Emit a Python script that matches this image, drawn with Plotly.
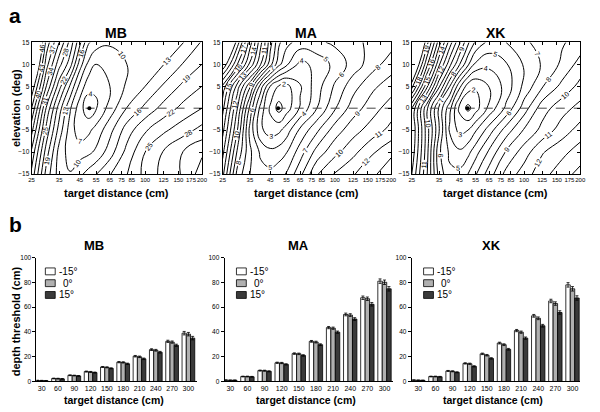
import math
import plotly.graph_objects as go

# ---------------- data: panel a (contour maps of threshold) ----------------
dist_grid = [25, 30, 35, 40, 45, 50, 55, 65, 80, 100, 125, 160, 200]
elev_grid = [-15, -10, -5, 0, 5, 10, 15]
dist_ticks = [25, 35, 45, 55, 65, 75, 85, 100, 125, 150, 175, 200]
elev_ticks = [-15, -10, -5, 0, 5, 10, 15]

mb_thresh = [
    [30.2, 17.7, 11.6, 10.2, 12.2, 14.2, 15.9, 18.8, 21.9, 25.9, 29, 31.4, 35.5],
    [33.4, 20.4, 11.9, 8.6, 8.7, 9.3, 10.6, 14.6, 20, 25, 28.2, 31.2, 33.5],
    [38, 23.9, 14.7, 8.6, 5.2, 6.3, 8.1, 12, 17.5, 21.6, 24.4, 26.8, 29],
    [43, 27.5, 17.5, 10.4, 5.3, 2, 3.8, 8.3, 13.1, 16.8, 20.1, 23, 25],
    [48.6, 33.8, 23.3, 15.6, 9.1, 5.1, 4.2, 7, 10.5, 13, 16.4, 19.8, 22],
    [55, 38.2, 29.1, 23.4, 14.5, 9.3, 7, 7.7, 10, 11.4, 12.9, 16.3, 19],
    [58, 41.8, 34, 27, 19.9, 13.4, 11.5, 10.5, 10.9, 11.5, 12.2, 13, 16.3],
]
ma_thresh = [
    [12.3, 7.6, 6, 5.4, 5.3, 5.6, 6.1, 7.7, 9.9, 11.1, 11.9, 12.8, 13.7],
    [13.3, 8.8, 6.2, 4.8, 4.3, 4.5, 4.95, 6.5, 8.4, 9.7, 10.7, 11.9, 12.75],
    [14.3, 10, 5.7, 3.2, 2.5, 2.75, 3.5, 5.2, 6.8, 8.5, 9.6, 10.5, 11.3],
    [15.3, 11, 6.7, 3.6, 1.8, 0.6, 1.5, 3.1, 5, 6.9, 8.5, 9.6, 10.5],
    [16.8, 12.5, 9.2, 5.5, 3, 1.9, 1.7, 2.9, 4.55, 6.15, 7.6, 8.8, 9.5],
    [21, 17, 13.8, 11, 8.4, 6.3, 5.2, 3.7, 4.3, 5.3, 6.4, 7.6, 8.5],
    [24, 19.5, 15.5, 12.3, 9.4, 7.2, 6.3, 5.6, 5.8, 6.2, 6.7, 7.3, 7.6],
]
xk_thresh = [
    [14, 10.2, 6.6, 5.2, 5.3, 6, 6.9, 8.5, 10.3, 11.5, 12.6, 13.6, 14.3],
    [14.7, 10.5, 6.2, 4.8, 4.2, 4.7, 5.6, 7.2, 9.1, 10.5, 11.9, 12.7, 13.5],
    [15, 10.6, 7.1, 3.8, 2.7, 3, 3.9, 5.5, 7.45, 9.1, 10.3, 11.5, 12.4],
    [15, 10.3, 6.8, 4.3, 1.8, 0.7, 1.55, 3.3, 5.2, 7.5, 9.55, 10.6, 11.35],
    [19.5, 14.4, 10.2, 7, 4.3, 2.5, 2.1, 2.95, 4.4, 6.25, 7.9, 9.3, 10.3],
    [22.5, 17.4, 13.2, 10.3, 8.1, 6.2, 4.8, 4.3, 4.9, 6.1, 7.1, 8.2, 9.4],
    [24.5, 19.5, 15.5, 12.5, 10.2, 8.2, 6.8, 5.7, 6, 6.8, 7.4, 7.9, 8.4],
]
subjects = ["MB", "MA", "XK"]
center_dist = [50.6, 49.6, 49.8]
center_elev = [0, 0, 0]
level_start = [4, 1, 1]
level_end = [46, 20, 20]
level_step = [3, 1, 1]

# ---------------- data: panel b (bar charts) ----------------
bar_dist = [30, 60, 90, 120, 150, 180, 210, 240, 270, 300]
y_ticks_b = [0, 20, 40, 60, 80, 100]
mb_m15 = [0.8, 2.4, 5.0, 8.0, 11.7, 15.6, 20.4, 25.7, 32.4, 39.0]
mb_0 = [0.7, 2.3, 4.8, 7.7, 11.4, 15.4, 19.9, 25.2, 31.8, 38.2]
mb_p15 = [0.6, 2.1, 4.5, 7.2, 10.6, 14.3, 18.3, 23.6, 29.2, 35.0]
mb_err = [0.2, 0.3, 0.3, 0.4, 0.4, 0.5, 0.6, 0.7, 0.9, 1.4]
ma_m15 = [1.1, 4.0, 8.8, 15.1, 22.5, 32.4, 43.5, 54.1, 67.6, 81.0]
ma_0 = [1.0, 4.0, 8.7, 14.9, 22.3, 31.8, 43.0, 53.6, 66.8, 80.1]
ma_p15 = [1.0, 3.8, 8.2, 13.8, 21.0, 29.7, 39.8, 50.4, 62.3, 74.8]
ma_err = [0.2, 0.3, 0.4, 0.5, 0.6, 0.7, 0.9, 1.1, 1.4, 1.8]
xk_m15 = [1.1, 4.0, 8.5, 14.6, 22.3, 31.0, 41.1, 53.0, 65.0, 78.0]
xk_0 = [1.0, 4.0, 8.2, 14.3, 21.2, 29.7, 39.8, 51.0, 62.9, 74.8]
xk_p15 = [0.9, 3.8, 7.4, 12.2, 18.6, 26.0, 35.0, 45.0, 55.7, 67.4]
xk_err = [0.2, 0.3, 0.4, 0.5, 0.6, 0.7, 0.9, 1.1, 1.4, 1.8]
cond_names = ["-15°", "0°", "15°"]
cond_colors = ["white", "#b0b0b0", "#3a3a3a"]

FONT = "Liberation Sans, Arial, sans-serif"
W, H = 600, 412


def px_x(p):
    return p / W


def px_y(p):
    return 1 - p / H


fig = go.Figure()

# ---------- contour panels ----------
cont_xdom = [[29, 202], [223, 394], [415, 586]]
cont_ydom = [39, 173]
grids = [mb_thresh, ma_thresh, xk_thresh]
layout_axes = {}
for i in range(3):
    ax = "" if i == 0 else str(i + 1)
    fig.add_trace(go.Contour(
        x=dist_grid, y=elev_grid, z=grids[i],
        xaxis="x" + ax, yaxis="y" + ax,
        contours=dict(start=level_start[i], end=level_end[i], size=level_step[i],
                      coloring="none", showlabels=True,
                      labelfont=dict(size=7, color="black", family=FONT)),
        colorscale=[[0, "black"], [1, "black"]],
        line=dict(width=1, color="black", smoothing=1.3),
        showscale=False, hoverinfo="skip", showlegend=False,
    ))
    fig.add_trace(go.Scatter(
        x=[dist_grid[0], dist_grid[-1]], y=[0, 0], mode="lines",
        line=dict(color="#444444", width=1, dash="dash"),
        xaxis="x" + ax, yaxis="y" + ax, showlegend=False, hoverinfo="skip"))
    fig.add_trace(go.Scatter(
        x=[center_dist[i]], y=[center_elev[i]], mode="markers",
        marker=dict(color="black", size=4),
        xaxis="x" + ax, yaxis="y" + ax, showlegend=False, hoverinfo="skip"))
    layout_axes["xaxis" + ax] = dict(
        domain=[px_x(cont_xdom[i][0]), px_x(cont_xdom[i][1])],
        anchor="y" + ax, type="log",
        range=[math.log10(dist_grid[0]), math.log10(dist_grid[-1])],
        tickvals=dist_ticks, ticktext=[str(t) for t in dist_ticks],
        ticks="inside", ticklen=3, tickcolor="black",
        showline=True, linecolor="black", linewidth=1, mirror="allticks",
        showgrid=False, zeroline=False,
        tickfont=dict(size=6, color="black", family=FONT), tickangle=0)
    layout_axes["yaxis" + ax] = dict(
        domain=[px_y(cont_ydom[1]), px_y(cont_ydom[0])],
        anchor="x" + ax, range=[-15, 15],
        tickvals=elev_ticks, ticks="inside", ticklen=3, tickcolor="black",
        showline=True, linecolor="black", linewidth=1, mirror="allticks",
        showgrid=False, zeroline=False,
        tickfont=dict(size=6.5, color="black", family=FONT))

# ---------- bar panels ----------
bar_xdom = [[34, 197], [225, 396], [415, 586]]
bar_ranges = [[-0.32, 9.53], [-0.33, 9.5], [-0.38, 9.45]]
bar_ydom = [258, 384]
bar_data = [(mb_m15, mb_0, mb_p15, mb_err),
            (ma_m15, ma_0, ma_p15, ma_err),
            (xk_m15, xk_0, xk_p15, xk_err)]
for i in range(3):
    ax = str(i + 4)
    for j in range(3):
        fig.add_trace(go.Bar(
            x=[str(d) for d in bar_dist], y=bar_data[i][j],
            name=cond_names[j],
            marker=dict(color=cond_colors[j], line=dict(color="black", width=0.8)),
            error_y=dict(type="data", array=bar_data[i][3], color="black",
                         thickness=0.8, width=1.5),
            xaxis="x" + ax, yaxis="y" + ax, showlegend=False,
            offsetgroup=str(j)))
    layout_axes["xaxis" + ax] = dict(
        domain=[px_x(bar_xdom[i][0]), px_x(bar_xdom[i][1])],
        anchor="y" + ax, type="category", range=bar_ranges[i],
        ticks="", ticklen=0,
        showline=True, linecolor="black", linewidth=1,
        showgrid=False, zeroline=False,
        tickfont=dict(size=7, color="black", family=FONT))
    layout_axes["yaxis" + ax] = dict(
        domain=[px_y(bar_ydom[1]), px_y(bar_ydom[0])],
        anchor="x" + ax, range=[0, 100], tickvals=y_ticks_b,
        ticks="outside", ticklen=3, tickcolor="black",
        showline=True, linecolor="black", linewidth=1,
        showgrid=False, zeroline=False,
        tickfont=dict(size=6.5, color="black", family=FONT))

# ---------- text annotations and legend keys ----------
ann = []
shapes = []


def text(x, y, s, size, bold=True, angle=0, xanchor="center"):
    ann.append(dict(x=px_x(x), y=px_y(y), xref="paper", yref="paper", text=s,
                    showarrow=False, textangle=angle, xanchor=xanchor, yanchor="middle",
                    font=dict(size=size, color="black", family=FONT,
                              weight="bold" if bold else "normal")))


text(4, 12, "a", 21, xanchor="left")
text(4, 224, "b", 21, xanchor="left")
cont_title_x = [115, 308, 500]
bar_title_x = [92, 300, 496]
for i in range(3):
    text(cont_title_x[i], 30, subjects[i], 14)
    text((cont_xdom[i][0] + cont_xdom[i][1]) / 2, 192, "target distance (cm)", 11)
    text(bar_title_x[i], 246, subjects[i], 13)
    text((bar_xdom[i][0] + bar_xdom[i][1]) / 2 - 3, 403, "target distance (cm)", 10.5)
text(13, 106, "elevation (deg)", 11, angle=-90)
text(13, 323, "depth threshold (cm)", 11, angle=-90)

legend_x = [43, 237, 427]
legend_rows = [272, 284, 296]
for i in range(3):
    x0 = legend_x[i]
    for j in range(3):
        y0 = legend_rows[j]
        shapes.append(dict(type="rect", xref="paper", yref="paper",
                           x0=px_x(x0), x1=px_x(x0 + 10),
                           y0=px_y(y0 + 3.5), y1=px_y(y0 - 3.5),
                           fillcolor=cond_colors[j],
                           line=dict(color="black", width=0.8)))
        if j == 1:
            tx, anchor = x0 + 30, "right"
        else:
            tx, anchor = x0 + 12, "left"
        ann.append(dict(x=px_x(tx), y=px_y(y0), xref="paper", yref="paper",
                        text=cond_names[j], showarrow=False,
                        xanchor=anchor, yanchor="middle",
                        font=dict(size=10, color="black", family=FONT)))

fig.update_layout(
    width=W, height=H, margin=dict(l=0, r=0, t=0, b=0),
    paper_bgcolor="white", plot_bgcolor="white",
    barmode="group", bargap=0.22, bargroupgap=0.0,
    annotations=ann, shapes=shapes, font=dict(family=FONT, color="black"),
    showlegend=False,
    **layout_axes)

fig.write_html("out.html", config={"displayModeBar": False},
               post_script="document.body.style.margin='0';")
